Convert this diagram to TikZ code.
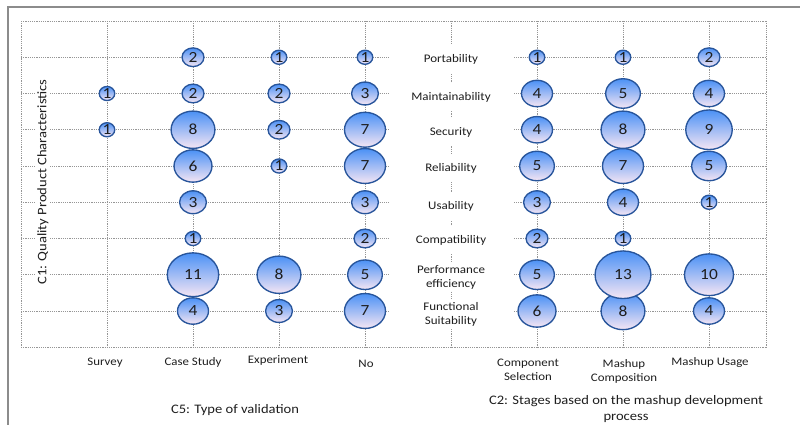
\documentclass[tikz,border=0pt]{standalone}
\usepackage{fontspec}
\setmainfont{Carlito}[FakeStretch=1.12]
\usetikzlibrary{shapes.geometric}
\definecolor{gridc}{RGB}{150,150,150}
\definecolor{bubtop}{RGB}{75,145,245}
\definecolor{bubbot}{RGB}{246,230,244}
\definecolor{bubline}{RGB}{40,85,155}
\definecolor{framec}{RGB}{140,140,140}
\definecolor{txt}{RGB}{30,30,30}
\begin{document}
\begin{tikzpicture}[x=1pt,y=-1pt,
  gridline/.style={draw=gridc, line width=0.6pt, dash pattern=on 1.2pt off 1pt},
  bub/.style={ellipse, draw=bubline, line width=1.35pt, top color=bubtop, bottom color=bubbot, inner sep=0pt, font=\fontsize{15.5}{15.5}\selectfont, text=txt},
  rowlab/.style={fill=white, minimum width=125pt, minimum height=28pt, inner sep=1pt, align=center, text=txt, font=\fontsize{11.6}{14}\selectfont},
  catlab/.style={align=center, text=txt, font=\fontsize{11.5}{14}\selectfont},
  axtitle/.style={align=center, text=txt, font=\fontsize{13}{15.5}\selectfont},
  framel/.style={draw=framec, line width=1.5pt}]
\useasboundingbox (0,0) rectangle (800,425);
% frame
\coordinate (fbl) at (8,425);
\coordinate (ftl) at (8,7);
\coordinate (ftr) at (800,7);
\draw[framel] (fbl) -- (ftl) -- (ftr);
% grid
\foreach \c in {0,...,8} \draw[gridline] (21+86*\c,21) -- (21+86*\c,347);
\draw[gridline] (766,21) -- (766,347);
\foreach \r in {0,...,9} \draw[gridline] (21,21+36.25*\r) -- (766,21+36.25*\r);
% row labels
\node[rowlab] (lab1) at (451,59) {Portability};
\node[rowlab] (lab2) at (451,97) {Maintainability};
\node[rowlab] (lab3) at (451,132) {Security};
\node[rowlab] (lab4) at (451,168) {Reliability};
\node[rowlab] (lab5) at (451,206) {Usability};
\node[rowlab] (lab6) at (451,240) {Compatibility};
\node[rowlab] (lab7) at (451,277) {Performance\\efficiency};
\node[rowlab] (lab8) at (451,314) {Functional\\Suitability};
% bubbles (bottom rows first)
\foreach \r/\c/\v in {
  8/2/4, 8/3/3, 8/4/7, 8/6/6, 8/7/8, 8/8/4,
  7/2/11, 7/3/8, 7/4/5, 7/6/5, 7/7/13, 7/8/10,
  6/2/1, 6/4/2, 6/6/2, 6/7/1,
  5/2/3, 5/4/3, 5/6/3, 5/7/4, 5/8/1,
  4/2/6, 4/3/1, 4/4/7, 4/6/5, 4/7/7, 4/8/5,
  3/1/1, 3/2/8, 3/3/2, 3/4/7, 3/6/4, 3/7/8, 3/8/9,
  2/1/1, 2/2/2, 2/3/2, 2/4/3, 2/6/4, 2/7/5, 2/8/4,
  1/2/2, 1/3/1, 1/4/1, 1/6/1, 1/7/1, 1/8/2}
  \node[bub, minimum width={15.5*sqrt(\v)}, minimum height={13.2*sqrt(\v)}] (b\r-\c) at (21+86*\c, 21+36.25*\r) {\v};
% category labels
\node[catlab] (survey) at (105,363) {Survey};
\node[catlab] (casestudy) at (193,362) {Case Study};
\node[catlab] (experiment) at (278,360) {Experiment};
\node[catlab] (no) at (366,364) {No};
\node[catlab] (compsel) at (528,370) {Component\\Selection};
\node[catlab] (mashcomp) at (624,371) {Mashup\\Composition};
\node[catlab] (mashusage) at (710,362) {Mashup Usage};
% axis titles
\node[axtitle] (c5) at (235,410) {C5: Type of validation};
\node[axtitle] (c2) at (626,409) {C2: Stages based on the mashup development\\process};
\node[axtitle, rotate=90, fill=white, inner sep=1pt] (c1) at (43,182) {C1: Quality Product Characteristics};
\end{tikzpicture}
\end{document}
